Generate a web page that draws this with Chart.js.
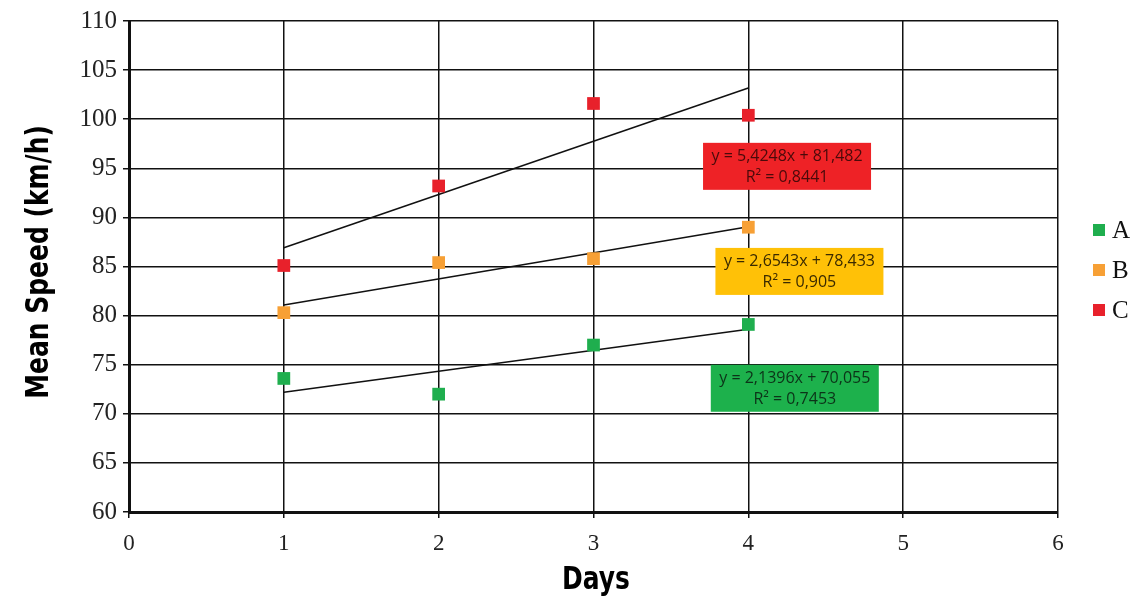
<!DOCTYPE html>
<html>
<head>
<meta charset="utf-8">
<script src="https://cdn.jsdelivr.net/npm/chart.js@4"></script>
<style>
  html, body { margin: 0; padding: 0; background: #fff; }
  #wrap { width: 1139px; height: 602px; position: relative; }
</style>
</head>
<body>
<div id="wrap"><canvas id="canvas" width="1139" height="602"></canvas></div>
<script>
// values
const days = [1, 2, 3, 4];
const seriesNames = ['A', 'B', 'C'];
const speedA = [73.6, 72.0, 77.0, 79.1];
const speedB = [80.3, 85.4, 85.8, 89.0];
const speedC = [85.1, 93.2, 101.6, 100.4];
const seriesColors = ['#1fae4e', '#f7a035', '#e8212b'];

// trend lines as printed in the boxes
const slopes = [2.1396, 2.6543, 5.4248];
const intercepts = [70.055, 78.433, 81.482];
const eqLabels = ['y = 2,1396x + 70,055', 'y = 2,6543x + 78,433', 'y = 5,4248x + 81,482'];
const r2Labels = ['R² = 0,7453', 'R² = 0,905', 'R² = 0,8441'];
const boxColors = ['#1db14c', '#ffc107', '#ee2226'];
const boxTextColors = ['#0c3318', '#3a2a00', '#4a0a0a'];
const boxPos = [[4.30, 72.6], [4.33, 84.5], [4.25, 95.2]];

const xTicks = [0, 1, 2, 3, 4, 5, 6];
const yTicks = [60, 65, 70, 75, 80, 85, 90, 95, 100, 105, 110];

const allSpeeds = [speedA, speedB, speedC];

function trendPoints(i) {
    let x0 = days[0], x1 = days[days.length - 1]
    return [
        {x: x0, y: intercepts[i] + slopes[i] * x0},
        {x: x1, y: intercepts[i] + slopes[i] * x1}
    ]
}

let datasets = []
for (let i = 0; i < 3; i++) {
    datasets.push({
        type: 'line',
        label: 'trend' + i,
        data: trendPoints(i),
        borderColor: '#111',
        borderWidth: 1.5,
        pointRadius: 0,
        fill: false,
        order: 2
    })
}
for (let i = 0; i < 3; i++) {
    datasets.push({
        type: 'scatter',
        label: seriesNames[i],
        data: days.map((d, j) => ({x: d, y: allSpeeds[i][j]})),
        backgroundColor: seriesColors[i],
        borderWidth: 0,
        pointStyle: 'rect',
        pointRadius: 9,
        order: 1
    })
}

// narrow heavy text, like the Impact titles of the original
function squeezedText(ctx, text, x, y, rot) {
    ctx.save()
    ctx.translate(x, y)
    if (rot) ctx.rotate(rot)
    ctx.scale(0.78, 1)
    ctx.fillText(text, 0, 0)
    ctx.restore()
}

// boxes, axis titles and legend
const extras = {
    id: 'extras',
    afterDatasetsDraw(chart) {
        const ctx = chart.ctx
        const xs = chart.scales.x, ys = chart.scales.y
        ctx.save()
        for (let i = 0; i < 3; i++) {
            let cx = xs.getPixelForValue(boxPos[i][0])
            let cy = ys.getPixelForValue(boxPos[i][1])
            let w = 168, h = 47
            ctx.fillStyle = boxColors[i]
            ctx.fillRect(cx - w / 2, cy - h / 2, w, h)
            ctx.fillStyle = boxTextColors[i]
            ctx.font = '16px "Open Sans", sans-serif'
            ctx.textAlign = 'center'
            ctx.textBaseline = 'middle'
            ctx.fillText(eqLabels[i], cx, cy - 10)
            ctx.fillText(r2Labels[i], cx, cy + 11)
        }
        ctx.restore()
    },
    afterDraw(chart) {
        const ctx = chart.ctx
        ctx.save()
        ctx.fillStyle = '#000'
        ctx.font = 'bold 32px "DejaVu Sans", sans-serif'
        ctx.textAlign = 'center'
        ctx.textBaseline = 'middle'
        squeezedText(ctx, 'Days', 596, 581, 0)
        squeezedText(ctx, 'Mean Speed (km/h)', 40, 262, -Math.PI / 2)
        ctx.restore()

        // legend
        ctx.save()
        ctx.font = '25px "Liberation Serif", serif'
        ctx.textBaseline = 'middle'
        ctx.textAlign = 'left'
        for (let i = 0; i < 3; i++) {
            let y = 230 + i * 40
            ctx.fillStyle = seriesColors[i]
            ctx.fillRect(1093, y - 6, 12, 12)
            ctx.fillStyle = '#111'
            ctx.fillText(seriesNames[i], 1112, y + 1)
        }
        ctx.restore()
    }
}

const ctx = document.getElementById('canvas').getContext('2d')
const config = {
    type: 'scatter',
    data: {datasets: datasets},
    options: {
        responsive: false,
        animation: false,
        layout: {padding: {left: 0, right: 81, top: 20, bottom: 0}},
        plugins: {legend: {display: false}, tooltip: {enabled: false}},
        scales: {
            x: {
                type: 'linear',
                min: 0, max: 6,
                afterBuildTicks: (s) => { s.ticks = xTicks.map(v => ({value: v})) },
                afterFit: (s) => { s.height = 90 },
                grid: {color: '#111', lineWidth: 1.5, tickLength: 6, tickColor: '#111'},
                border: {color: '#111', width: 3},
                ticks: {color: '#222', font: {family: 'Liberation Serif', size: 23}, padding: 12, maxRotation: 0}
            },
            y: {
                min: 60, max: 110,
                afterBuildTicks: (s) => { s.ticks = yTicks.map(v => ({value: v})) },
                afterFit: (s) => { s.width = 129 },
                grid: {color: '#111', lineWidth: 1.5, tickLength: 6, tickColor: '#111'},
                border: {color: '#111', width: 3},
                ticks: {color: '#222', font: {family: 'Liberation Serif', size: 25}, padding: 6}
            }
        }
    },
    plugins: [extras]
}
let myChart = new Chart(ctx, config)
</script>
</body>
</html>
